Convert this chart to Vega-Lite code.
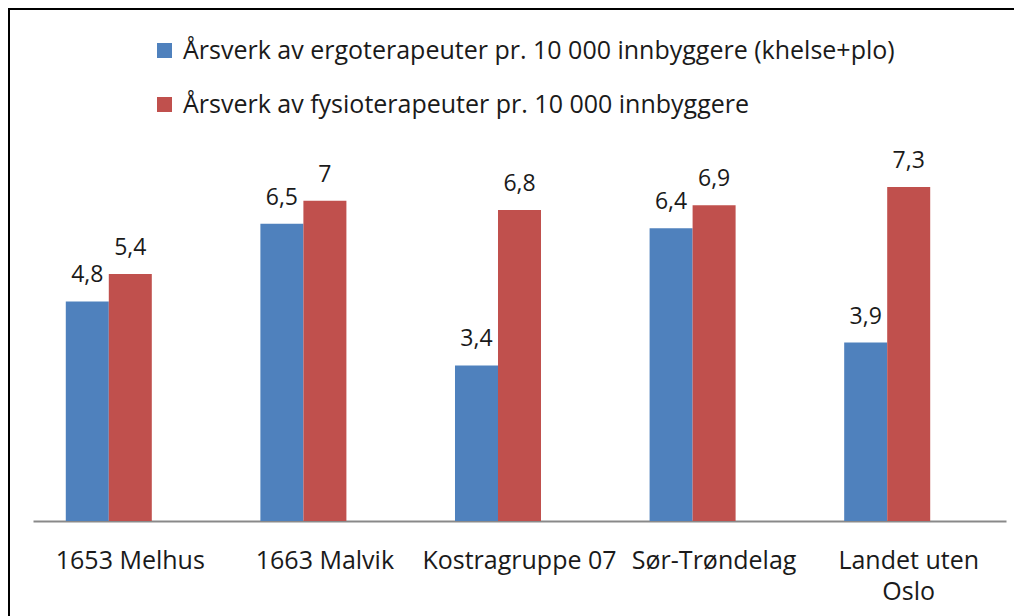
{
  "$schema": "https://vega.github.io/schema/vega-lite/v6.json",
  "width": 1010,
  "height": 612,
  "autosize": {"type": "none"},
  "padding": {"left": 9, "top": 9, "right": 0, "bottom": 0},
  "background": "white",
  "config": {
    "locale": {"number": {"decimal": ",", "thousands": " ", "grouping": [3], "currency": ["", " kr"]}},
    "view": {"stroke": "#000000", "strokeWidth": 2},
    "font": "Open Sans",
    "text": {"font": "Open Sans"}
  },
  "data": {
    "values": [
      {"region": "1653 Melhus", "series": "Årsverk av ergoterapeuter pr. 10 000 innbyggere (khelse+plo)", "value": 4.8},
      {"region": "1653 Melhus", "series": "Årsverk av fysioterapeuter pr. 10 000 innbyggere", "value": 5.4},
      {"region": "1663 Malvik", "series": "Årsverk av ergoterapeuter pr. 10 000 innbyggere (khelse+plo)", "value": 6.5},
      {"region": "1663 Malvik", "series": "Årsverk av fysioterapeuter pr. 10 000 innbyggere", "value": 7},
      {"region": "Kostragruppe 07", "series": "Årsverk av ergoterapeuter pr. 10 000 innbyggere (khelse+plo)", "value": 3.4},
      {"region": "Kostragruppe 07", "series": "Årsverk av fysioterapeuter pr. 10 000 innbyggere", "value": 6.8},
      {"region": "Sør-Trøndelag", "series": "Årsverk av ergoterapeuter pr. 10 000 innbyggere (khelse+plo)", "value": 6.4},
      {"region": "Sør-Trøndelag", "series": "Årsverk av fysioterapeuter pr. 10 000 innbyggere", "value": 6.9},
      {"region": "Landet uten Oslo", "series": "Årsverk av ergoterapeuter pr. 10 000 innbyggere (khelse+plo)", "value": 3.9},
      {"region": "Landet uten Oslo", "series": "Årsverk av fysioterapeuter pr. 10 000 innbyggere", "value": 7.3}
    ]
  },
  "encoding": {
    "x": {
      "field": "region",
      "type": "nominal",
      "sort": null,
      "scale": {"range": [24, 997], "paddingInner": 0.337, "paddingOuter": 0.1685},
      "axis": {
        "title": null,
        "orient": "bottom",
        "offset": -100,
        "labelAngle": 0,
        "ticks": false,
        "domainColor": "#898989",
        "domainWidth": 2,
        "labelFont": "Open Sans",
        "labelFontSize": 25,
        "labelColor": "#1a1a1a",
        "labelPadding": 27,
        "labelBaseline": "top",
        "labelLineHeight": 31,
        "labelLimit": 400,
        "labelOverlap": false,
        "labelExpr": "datum.label == 'Landet uten Oslo' ? ['Landet uten', 'Oslo'] : datum.label"
      }
    },
    "xOffset": {
      "field": "series",
      "type": "nominal",
      "scale": {"domain": ["Årsverk av ergoterapeuter pr. 10 000 innbyggere (khelse+plo)", "Årsverk av fysioterapeuter pr. 10 000 innbyggere", " "], "paddingInner": 0, "paddingOuter": 0}
    },
    "y": {
      "field": "value",
      "type": "quantitative",
      "scale": {"domain": [0, 8], "range": [512, 146], "nice": false, "zero": true},
      "axis": null
    }
  },
  "layer": [
    {
      "mark": {"type": "bar"},
      "encoding": {
        "color": {
          "field": "series",
          "type": "nominal",
          "scale": {"domain": ["Årsverk av ergoterapeuter pr. 10 000 innbyggere (khelse+plo)", "Årsverk av fysioterapeuter pr. 10 000 innbyggere"], "range": ["#4F81BD", "#C0504D"]},
          "legend": {
            "title": null,
            "orient": "none",
            "legendX": 143,
            "legendY": 29,
            "symbolType": "square",
            "symbolSize": 225,
            "symbolStrokeWidth": 0,
            "symbolOpacity": 1,
            "labelFont": "Open Sans",
            "labelFontSize": 25,
            "labelColor": "#1a1a1a",
            "labelOffset": 6,
            "labelLimit": 950,
            "rowPadding": 28
          }
        }
      }
    },
    {
      "mark": {"type": "text", "baseline": "alphabetic", "dy": -19, "fontSize": 23, "color": "#1a1a1a"},
      "encoding": {
        "text": {"field": "value", "type": "quantitative", "format": ".1~f"}
      }
    }
  ]
}
